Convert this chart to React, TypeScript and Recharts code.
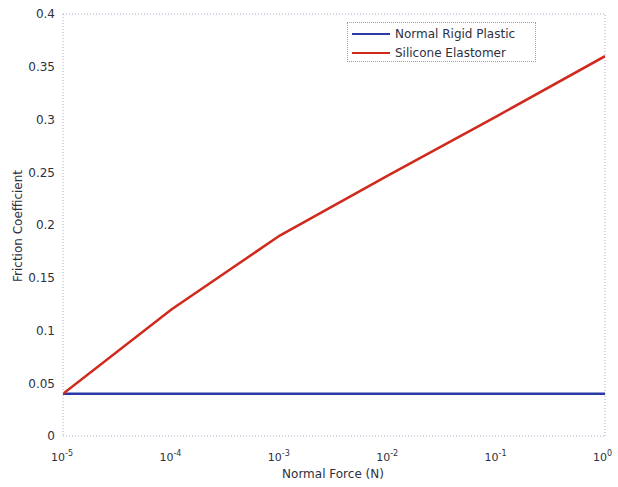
import React from "react";
import { LineChart, Line, XAxis, YAxis, ReferenceLine, Legend } from "recharts";

const forces = [1e-5, 1e-4, 1e-3, 1e-2, 1e-1, 1];
const rigidPlastic = [0.04, 0.04, 0.04, 0.04, 0.04, 0.04];
const siliconeElastomer = [0.04, 0.12, 0.19, 0.247, 0.303, 0.36];
const majorTicks = [1e-5, 1e-4, 1e-3, 1e-2, 1e-1, 1];
const exponents = ["-5", "-4", "-3", "-2", "-1", "0"];
const minorTicks: number[] = [];
for (let d = -5; d < 0; d++) {
  for (let m = 2; m <= 9; m++) minorTicks.push(m * Math.pow(10, d));
}
const yTicks = [0, 0.05, 0.1, 0.15, 0.2, 0.25, 0.3, 0.35, 0.4];

const data = forces.map((f, i) => ({
  x: f,
  plastic: rigidPlastic[i],
  silicone: siliconeElastomer[i],
}));

const FONT = "'DejaVu Sans', Verdana, sans-serif";
const TXT = "#2e3040";
const BLUE = "#2b3aa6";
const RED = "#d02a1c";

const XTick = (props: any) => {
  const { x, y, payload } = props;
  const idx = Math.round(Math.log10(Number(payload.value))) + 5;
  const exp = exponents[idx] ?? "";
  return (
    <g>
      <text x={x + 2} y={y + 17} textAnchor="end" fontFamily={FONT} fontSize={11} fill={TXT}>
        10
      </text>
      <text x={x + 2} y={y + 12} textAnchor="start" fontFamily={FONT} fontSize={8} fill={TXT}>
        {exp}
      </text>
    </g>
  );
};

const LegendBox = () => (
  <div
    style={{
      position: "absolute",
      left: 347,
      top: 22,
      width: 189,
      height: 40,
      border: "1px dotted #9aa0b8",
      background: "#fff",
      fontFamily: FONT,
      fontSize: 12,
      color: TXT,
      boxSizing: "border-box",
    }}
  >
    {[
      { name: "Normal Rigid Plastic", color: BLUE, top: 3 },
      { name: "Silicone Elastomer", color: RED, top: 22 },
    ].map((e) => (
      <div key={e.name} style={{ position: "absolute", left: 4, top: e.top, height: 15, display: "flex", alignItems: "center" }}>
        <div style={{ width: 38, height: 2, background: e.color, marginRight: 5 }} />
        <span style={{ whiteSpace: "nowrap" }}>{e.name}</span>
      </div>
    ))}
  </div>
);

export default function App() {
  return (
    <div style={{ position: "absolute", left: 0, top: 0, width: 618, height: 487, background: "#fff" }}>
      <LineChart width={618} height={487} data={data} margin={{ top: 14, right: 13, left: 0, bottom: 0 }}>
        <XAxis
          xAxisId="minor"
          dataKey="x"
          type="number"
          scale="log"
          domain={[1e-5, 1]}
          ticks={minorTicks}
          allowDataOverflow
          height={0}
          mirror
          tick={false}
          tickSize={3}
          axisLine={false}
          tickLine={{ stroke: "#b0b4c8" }}
        />
        <XAxis
          xAxisId="main"
          dataKey="x"
          type="number"
          scale="log"
          domain={[1e-5, 1]}
          ticks={majorTicks}
          interval={0}
          allowDataOverflow
          height={51}
          tick={<XTick />}
          tickLine={false}
          axisLine={{ stroke: "#a8acc8", strokeDasharray: "1 2" }}
        />
        <YAxis
          type="number"
          domain={[0, 0.4]}
          ticks={yTicks}
          interval={0}
          width={63}
          tickLine={false}
          tickFormatter={(v: number) => String(+v.toFixed(2))}
          tick={{ fontFamily: FONT, fontSize: 12, fill: TXT }}
          axisLine={{ stroke: "#a8acc8", strokeDasharray: "1 2" }}
        />
        <ReferenceLine xAxisId="main" y={0.4} stroke="#a8acc8" strokeDasharray="1 2" />
        <ReferenceLine xAxisId="main" x={1} stroke="#a8acc8" strokeDasharray="1 2" />
        <Line
          xAxisId="main"
          dataKey="plastic"
          name="Normal Rigid Plastic"
          stroke={BLUE}
          strokeWidth={2.5}
          dot={false}
          isAnimationActive={false}
        />
        <Line
          xAxisId="main"
          dataKey="silicone"
          name="Silicone Elastomer"
          stroke={RED}
          strokeWidth={2.5}
          dot={false}
          isAnimationActive={false}
        />
        <Legend content={<LegendBox />} wrapperStyle={{ position: "absolute", left: 0, top: 0, width: 0, height: 0 }} />
        <text x={333} y={478} textAnchor="middle" fontFamily={FONT} fontSize={12} fill={TXT}>
          Normal Force (N)
        </text>
        <text
          x={22}
          y={226}
          textAnchor="middle"
          fontFamily={FONT}
          fontSize={12}
          fill={TXT}
          transform="rotate(-90 22 226)"
        >
          Friction Coefficient
        </text>
      </LineChart>
    </div>
  );
}
